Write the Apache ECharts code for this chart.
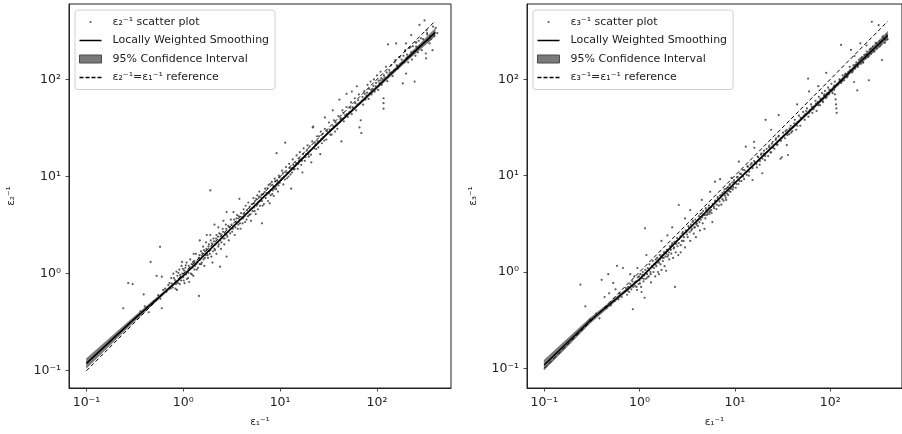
<!DOCTYPE html>
<html><head><meta charset="utf-8">
<script src="https://cdn.jsdelivr.net/npm/echarts@6/dist/echarts.min.js"></script>
<style>html,body{margin:0;padding:0;background:#fff}#c{width:902px;height:434px}</style>
</head><body><div id="c"></div>
<script>
// ---- tick labels ----
const tickValues = [0.1, 1, 10, 100];
const tickLabels = ['10\u207b\u00b9', '10\u2070', '10\u00b9', '10\u00b2'];

// ---- names ----
const xName = '\u03b5\u2081\u207b\u00b9';
const yNameLeft = '\u03b5\u2082\u207b\u00b9';
const yNameRight = '\u03b5\u2083\u207b\u00b9';
const scatterNameLeft = '\u03b5\u2082\u207b\u00b9 scatter plot';
const scatterNameRight = '\u03b5\u2083\u207b\u00b9 scatter plot';
const smoothName = 'Locally Weighted Smoothing';
const bandName = '95% Confidence Interval';
const refNameLeft = '\u03b5\u2082\u207b\u00b9=\u03b5\u2081\u207b\u00b9 reference';
const refNameRight = '\u03b5\u2083\u207b\u00b9=\u03b5\u2081\u207b\u00b9 reference';

// ---- smoothing curves and confidence bands ----
const smoothX = [0.1, 0.3, 1, 3, 10, 30, 100, 200, 400];
const smoothLeft = [0.119, 0.33, 0.95, 2.8, 9, 27, 83, 160, 305];
const lowerLeft = [0.106, 0.31, 0.93, 2.74, 8.8, 26.3, 80, 152, 278];
const upperLeft = [0.134, 0.35, 0.97, 2.86, 9.2, 27.7, 86, 168, 335];
const smoothRight = [0.108, 0.31, 0.84, 2.55, 8.4, 24, 75, 148, 285];
const lowerRight = [0.096, 0.29, 0.82, 2.5, 8.2, 23.4, 72, 140, 258];
const upperRight = [0.122, 0.33, 0.86, 2.6, 8.6, 24.6, 78, 156, 315];

// ---- reference y = x ----
const refX = [0.1, 400];
const refY = [0.1, 400];

// ---- scatter (left: eps2 vs eps1) ----
const scatterLeft = [
[0.24,0.44],[0.27,0.8],[0.30,0.78],[0.33,0.36],[0.36,0.41],[0.39,0.61],[0.40,0.46],[0.42,0.45],[0.44,0.40],[0.46,1.32],[0.48,0.5],[0.5,0.52],[0.53,0.95],[0.55,0.6],[0.575,1.89],[0.58,0.55],[0.6,0.44],[0.6,0.93],[0.62,0.68],[0.65,0.7],[0.67,0.65],[0.7,0.76],
[0.72,0.8],[0.74,0.7],[0.76,0.79],[0.78,0.72],[0.79,1.0],[0.8,0.9],[0.82,0.86],[0.84,0.78],[0.85,1.05],[0.86,0.68],[0.87,0.95],[0.88,0.8],[0.9,0.88],[0.91,1.1],[0.93,0.97],[0.95,0.85],[0.96,1.2],[0.97,1.32],[0.98,1.0],[1.0,0.92],[1.02,1.08],[1.03,0.8],[1.05,1.15],[1.07,0.98],[1.08,1.3],[1.1,1.05],[1.12,0.9],[1.14,1.2],[1.15,0.82],[1.16,1.1],[1.18,1.4],[1.2,1.0],[1.22,1.25],[1.25,1.15],[1.27,0.95],[1.28,1.6],[1.3,1.35],[1.32,1.2],[1.35,1.6],[1.38,1.1],[1.4,1.3],[1.45,0.59],[1.45,1.45],[1.48,1.25],[1.48,2.2],
[1.5,1.4],[1.52,1.7],[1.55,1.3],[1.58,1.5],[1.6,1.9],[1.62,1.4],[1.65,1.2],[1.68,1.7],[1.7,1.55],[1.72,2.1],[1.75,1.6],[1.75,2.5],[1.8,1.45],[1.82,1.9],[1.85,1.7],[1.9,7.2],[1.9,1.75],[1.9,2.5],[1.92,2.2],[1.95,1.5],[2.0,1.9],[2.0,1.3],[2.05,2.3],[2.1,1.8],[2.1,3.2],[2.15,2.0],[2.2,1.6],[2.2,2.5],[2.25,2.1],[2.3,1.9],[2.3,3.0],[2.35,2.6],[2.4,2.2],[2.4,1.18],[2.45,1.8],[2.5,2.4],[2.55,2.9],[2.6,2.3],[2.6,3.5],[2.65,2.0],[2.7,2.6],[2.75,3.2],[2.8,2.5],[2.8,4.3],[2.8,1.5],[2.9,2.7],[2.95,2.2],[3.0,3.0],[3.1,3.6],[3.2,2.7],[3.3,3.1],[3.3,4.3],[3.4,2.5],[3.5,3.4],[3.6,4.0],[3.7,3.2],[3.8,3.6],[3.8,5.9],[3.9,2.9],[4.0,3.8],
[4.1,3.3],[4.2,4.6],[4.3,3.9],[4.4,5.0],[4.5,3.6],[4.6,4.2],[4.7,5.4],[4.8,4.0],[4.9,4.6],[5.0,3.5],[5.1,5.2],[5.2,4.4],[5.3,6.0],[5.4,4.8],[5.5,5.6],[5.6,4.1],[5.7,5.0],[5.8,6.4],[5.9,4.6],[6.0,5.5],[6.1,7.0],[6.2,5.0],[6.3,6.1],[6.5,3.3],[6.5,5.6],[6.7,6.6],[6.8,5.2],[7.0,7.5],[7.1,6.0],[7.3,6.8],[7.5,5.6],[7.6,8.2],[7.8,5.3],[7.8,7.0],[8.0,6.4],[8.2,8.8],[8.4,7.2],[8.6,6.3],[8.8,9.5],[9.0,7.8],[9.2,17.4],[9.3,8.5],[9.5,7.0],[9.7,10.2],[9.9,8.6],
[10.2,9.2],[10.5,11.5],[10.8,8.3],[11.0,10.0],[11.3,22.3],[11.5,12.5],[11.8,9.6],[12,11],[12.4,13.5],[12.8,10.5],[13,7.5],[13.2,12.2],[13.5,15],[13.9,11.8],[14.3,12.9],[14.8,16.5],[15.2,12],[15.6,14.5],[16,17.8],[16.5,13.2],[17,15.5],[17,11],[17.5,19.5],[18,14.5],[18.6,17],[19.2,21],[19.8,16],[20.5,18.5],[21,14],[21.5,23],[21.7,32],[22,32.6],[22.5,19.5],[23.2,21.5],[24,26],[24.8,20],[25.5,23],[26,17],[26.3,29],[27,22],[28,25.5],[29,31],[29,40.6],[30,24],[31,28],[32,36],[33,27],[34.5,31],[35,48],[36,38],[37,29],[38.5,34],[40,42],[41,62],[43,23],
[41,36],[42.5,40],[44,48],[45.5,37],[47,43],[48.5,52],[48.5,71],[50,41],[52,46],[54,58],[55,44],[55,75],[57,50],[59,64],[61,48],[62,85],[63,55],[65,70],[66,32],[68,38],[69,28],[70,60],[72,55],[74,76],[76,62],[78,68],[80,88],[82,63],[84,72],[86,95],[88,70],[90,80],[93,100],[95,75],[97,85],[100,110],[103,78],[106,92],[109,98],[109,120],[112,88],[117,50],[117,57],[117,64],[115,100],[120,105],[124,135],[128,96],[130,230],[132,112],[136,118],[140,140],[145,108],[150,125],
[155,158],[158,235],[160,140],[165,130],[170,170],[175,145],[180,160],[185,91],[188,175],[192,150],[196,200],[200,165],[200,115],[200,235],[205,180],[210,150],[215,210],[220,175],[225,190],[226,286],[230,160],[235,220],[245,95],[245,195],[250,175],[254,218],[255,240],[260,210],[265,190],[270,250],[275,365],[280,220],[290,200],[300,260],[310,405],[320,185],[322,165],[325,320],[330,290],[340,250],[350,235],[360,260],[375,200],[390,280],[405,340],[420,300],
[0.75,0.9],[0.83,0.7],[0.89,1.02],[0.92,0.78],[0.99,1.12],[1.01,0.85],[1.06,1.22],[1.09,0.88],[1.13,1.02],[1.19,1.12],[1.23,0.98],[1.26,1.32],[1.31,1.1],[1.36,1.25],[1.42,1.15],[1.47,1.55],[1.53,1.25],[1.57,1.62],[1.63,1.75],[1.67,1.45],[1.73,1.8],[1.78,1.55],[1.84,2.0],[1.88,1.6],[1.97,2.05],[2.03,1.7],[2.08,2.15],[2.13,1.75],[2.18,2.3],[2.28,2.4],[2.33,2.0],[2.43,2.55],[2.48,2.1],[2.58,2.7],[2.68,2.3],[2.78,2.9],[2.85,2.4],[2.92,3.1],[3.05,2.6],[3.15,3.2],[3.25,2.9],[3.35,3.6],[3.45,3.0],[3.55,3.7],[3.65,2.9],[3.75,3.9],[3.85,3.3],[3.95,4.2],[4.15,3.7],[4.25,4.1],[4.35,3.4],[4.55,4.5],[4.65,3.9],[4.85,4.9],[4.95,4.1],[5.15,4.7],[5.35,5.3],[5.45,4.4],[5.65,5.9],[5.85,5.2],[6.05,6.2],[6.25,5.6],[6.45,6.5],[6.6,5.0],[6.9,6.9],[7.2,6.5],[7.4,7.6],[7.7,6.7],[7.9,8.4],[8.1,7.3],[8.3,6.6],[8.5,8.0],[8.7,7.5],[8.9,8.9],[9.1,7.4],[9.4,9.0],[9.6,8.1],[9.8,9.8],
[10.4,9.6],[10.7,10.8],[11.2,9.3],[11.6,11.0],[12.2,10.0],[12.6,12.2],[13.3,11.0],[13.7,13.2],[14.1,12.0],[14.6,13.8],[15.4,13.5],[15.9,15.2],[16.8,14.5],[17.3,17.0],[18.3,15.8],[18.9,18.5],[19.5,17.0],[20.2,20.5],[20.8,16.8],[22.8,22.5],[23.6,19.2],[24.4,23.0],[25.2,26.0],[26.8,24.5],[27.5,27.5],[28.5,23.5],[30.5,29.5],[32.5,30.5],[34,27],[35.5,33],[37.5,36],[39,31],[42,39],[45,45],[49,44],[53,51],[56,52],[60,57],[64,61],[67,57],[71,66],[75,71],[79,73],[83,80],[87,78],[92,86],[98,92],[104,97],[111,103],[118,110],[126,118],[134,125],[143,118],[152,150],[162,138],[172,170],[183,150],[195,195],[208,170],[222,215],[238,195],[252,240],[268,215],[285,265],[305,240],[330,300],[355,280],[380,350]
];

// ---- scatter (right: eps3 vs eps1) ----
const scatterRight = [
[0.24,0.74],[0.27,0.44],[0.3,0.32],[0.35,0.37],[0.38,0.33],[0.4,0.83],[0.43,0.55],[0.45,0.42],[0.47,0.95],[0.48,0.6],[0.5,0.45],[0.53,0.77],[0.55,0.5],[0.56,0.66],[0.58,1.16],[0.6,0.52],[0.62,0.6],[0.65,0.55],[0.67,1.1],[0.7,0.62],
[0.72,0.68],[0.74,0.58],[0.76,0.7],[0.78,0.62],[0.8,0.75],[0.8,0.95],[0.82,0.66],[0.84,0.8],[0.85,0.41],[0.86,0.7],[0.88,0.9],[0.9,0.72],[0.92,0.8],[0.94,0.65],[0.95,1.1],[0.96,0.88],[0.98,0.75],[1.0,0.82],[1.02,0.95],[1.04,0.7],[1.05,0.62],[1.06,0.86],[1.08,1.0],[1.1,0.8],[1.12,0.92],[1.13,0.54],[1.14,2.84],[1.15,1.05],[1.17,0.85],[1.18,1.5],[1.2,0.95],[1.22,1.1],[1.25,0.9],[1.27,1.2],[1.3,1.0],[1.32,0.78],[1.35,1.15],[1.38,1.3],[1.4,1.0],[1.43,1.2],[1.46,0.9],[1.48,1.35],
[1.5,1.15],[1.53,1.4],[1.56,1.0],[1.6,1.25],[1.6,0.95],[1.63,1.5],[1.66,1.2],[1.7,1.05],[1.7,2.1],[1.73,1.4],[1.76,1.3],[1.8,1.6],[1.83,1.15],[1.87,1.45],[1.9,1.03],[1.93,1.7],[1.96,2.4],[1.96,1.44],[2.0,1.5],[2.05,1.35],[2.1,1.75],[2.15,1.55],[2.2,2.0],[2.2,2.9],[2.25,1.4],[2.3,1.8],[2.35,0.70],[2.4,1.6],[2.45,2.1],[2.5,1.85],[2.55,1.5],[2.58,4.96],[2.6,2.2],[2.7,1.9],[2.7,1.6],[2.8,2.5],[2.9,2.1],[3.0,1.8],[3.0,3.6],[3.1,2.6],[3.2,2.3],[3.3,2.9],[3.4,2.1],[3.4,4.4],[3.5,2.7],[3.6,3.3],[3.7,2.5],[3.8,2.9],[3.9,2.3],[4.0,3.2],
[4.1,3.0],[4.2,3.8],[4.3,2.7],[4.4,3.5],[4.5,4.1],[4.5,5.6],[4.6,3.2],[4.7,3.9],[4.8,2.8],[4.9,3.6],[5.0,4.4],[5.1,3.9],[5.2,4.2],[5.3,4.6],[5.4,4.0],[5.5,4.3],[5.5,6.8],[5.6,4.7],[5.7,4.1],[5.8,3.3],[6.0,4.8],[6.2,8.66],[6.2,5.4],[6.4,4.5],[6.6,5.8],[6.8,4.9],[7.0,6.2],[7.0,9.2],[7.2,5.0],[7.4,6.6],[7.6,5.5],[7.8,7.2],[8.0,5.9],[8.1,5.6],[8.3,7.5],[8.5,6.3],[8.8,8.0],[9.0,6.8],[9.2,9.5],[9.5,7.2],[9.8,8.6],
[10.2,7.5],[10.5,9.6],[10.9,8.2],[11,14],[11.3,10.5],[11.7,8.8],[12.1,11.5],[12.5,9.2],[13,20],[13,10.8],[13.5,12.5],[14,10],[14.5,12],[15,13.5],[15.3,9.0],[15.9,22.5],[16,19.5],[16.3,13.8],[17,12.2],[17.6,15.5],[18.2,13],[18.8,16.5],[19.4,10.6],[20,17],[20.7,14.5],[21,38],[21.5,19],[22.3,16],[23,20.5],[24,17.5],[24,30],[25,22.5],[26,19],[27,24.5],[28,21],[28.8,42.6],[29,26],[30,15],[30.5,23],[31,15.5],[32,28],[33.5,24.5],[35,30],[35,20.8],[36,16.4],[37,27],[38.5,33],[40,29],
[41,32],[42.5,38],[44,30],[45,55],[45.5,36],[47,42],[48.5,33],[50,40],[52,46],[54,38],[55,44],[57,50],[58.6,102],[59,41],[60,75],[61,48],[63,55],[65,45],[67,52],[70,60],[72,47],[74,58],[75,85],[76,66],[78,54],[80,62],[82,72],[84,58],[86,68],[88,76],[90.8,117],[90,64],[93,72],[95,82],[97,70],[100,78],[103,90],[106,72],[109,84],[110,78],[112,70],[112,95],[114,62],[115,55],[116,50],[117,45],[120,88],[125,100],[130,228],[130,92],[135,110],[140,98],[145,115],[150,105],
[155,120],[160,135],[165,203],[170,118],[175,140],[178,94],[180,175],[182,130],[188,150],[192,77],[195,140],[200,160],[207,237],[210,145],[215,170],[220,150],[228,180],[235,165],[240,225],[242,195],[250,170],[254,98],[260,205],[268,185],[273,397],[280,220],[290,195],[300,240],[310,210],[322,366],[330,250],[340,230],[349,159],[360,270],[375,240],[390,290],[400,260],
[0.75,0.64],[0.83,0.72],[0.89,0.78],[0.93,0.7],[0.99,0.9],[1.01,0.76],[1.07,0.93],[1.11,0.85],[1.16,0.97],[1.21,0.88],[1.26,1.05],[1.31,0.95],[1.36,1.12],[1.42,1.1],[1.47,1.2],[1.52,1.25],[1.58,1.3],[1.64,1.35],[1.68,1.45],[1.74,1.5],[1.79,1.4],[1.85,1.6],[1.91,1.55],[1.98,1.7],[2.03,1.6],[2.08,1.85],[2.13,1.7],[2.18,1.9],[2.28,1.75],[2.33,2.05],[2.43,1.95],[2.48,2.25],[2.58,2.0],[2.68,2.35],[2.78,2.1],[2.85,2.6],[2.92,2.3],[3.05,2.7],[3.15,2.45],[3.25,3.0],[3.35,2.6],[3.45,3.1],[3.55,2.8],[3.65,3.4],[3.75,2.9],[3.85,3.5],[3.95,3.1],[4.15,3.5],[4.25,3.3],[4.35,4.0],[4.55,3.7],[4.65,4.3],[4.85,3.9],[4.95,4.6],[5.15,4.0],[5.35,4.9],[5.45,4.2],[5.65,4.4],[5.85,5.1],[6.05,4.6],[6.25,5.5],[6.45,5.0],[6.6,6.0],[6.9,5.4],[7.2,6.3],[7.4,5.7],[7.7,6.8],[7.9,6.2],[8.1,7.3],[8.3,6.5],[8.5,7.6],[8.7,6.9],[8.9,8.2],[9.1,7.3],[9.4,8.5],[9.6,7.6],[9.8,9.0],
[10.4,8.2],[10.7,9.7],[11.2,8.8],[11.6,10.4],[12.2,9.8],[12.6,11.4],[13.3,10.2],[13.7,12.4],[14.1,11.0],[14.6,13.0],[15.4,12.0],[15.9,14.2],[16.8,13.2],[17.3,15.8],[18.3,14.2],[18.9,17.0],[19.5,15.0],[20.2,18.2],[20.8,16.0],[22.8,19.8],[23.6,17.5],[24.4,21.5],[25.2,19.5],[26.8,23.5],[27.5,21.0],[28.5,25.5],[30.5,24.5],[32.5,26.0],[34,29],[35.5,26.5],[37.5,31],[39,28],[42,35],[45,33],[49,40],[53,42],[56,47],[60,45],[64,52],[67,49],[71,56],[75,54],[79,63],[83,60],[87,70],[92,66],[98,78],[104,76],[111,86],[118,88],[126,98],[134,96],[143,112],[152,108],[162,125],[172,122],[183,142],[195,135],[208,165],[222,150],[238,182],[252,175],[268,210],[285,195],[305,235],[330,220],[355,280],[380,260]
];

function pairs(xs, ys) { return xs.map((x, i) => [x, ys[i]]); }
function bandRows(xs, lo, hi) { return xs.map((x, i) => [x, lo[i], hi[i]]); }

const FONT = 'DejaVu Sans';
const INK = '#222';

function fmtTick(v) {
  for (let i = 0; i < tickValues.length; i++) {
    if (Math.abs(v - tickValues[i]) / tickValues[i] < 1e-6) return tickLabels[i];
  }
  return '';
}

function xAxisCfg(gi, max) {
  return {
    type: 'log', logBase: 10, gridIndex: gi, min: 0.066, max: max,
    name: xName, nameLocation: 'middle', nameGap: 29,
    nameTextStyle: { fontFamily: FONT, fontSize: 10.5, color: INK },
    axisLine: { show: true, onZero: false, lineStyle: { color: INK, width: 1 } },
    axisTick: { show: true, length: 3.5, lineStyle: { color: INK, width: 0.8 }, customValues: tickValues },
    axisLabel: { show: true, fontFamily: FONT, fontSize: 12.5, color: INK, margin: 8, customValues: tickValues, formatter: fmtTick },
    splitLine: { show: false }, minorTick: { show: false }
  };
}
function yAxisCfg(gi, min, max, name, gap) {
  return {
    type: 'log', logBase: 10, gridIndex: gi, min: min, max: max,
    name: name, nameLocation: 'middle', nameGap: gap, nameRotate: 90,
    nameTextStyle: { fontFamily: FONT, fontSize: 10.5, color: INK },
    axisLine: { show: true, onZero: false, lineStyle: { color: INK, width: 1 } },
    axisTick: { show: true, length: 3.5, lineStyle: { color: INK, width: 0.8 }, customValues: tickValues },
    axisLabel: { show: true, fontFamily: FONT, fontSize: 12.5, color: INK, margin: 8, customValues: tickValues, formatter: fmtTick },
    splitLine: { show: false }, minorTick: { show: false }
  };
}

function bandSeries(idx, xs, lo, hi) {
  return {
    type: 'custom', name: bandName, xAxisIndex: idx, yAxisIndex: idx, z: 3,
    data: bandRows(xs, lo, hi), encode: { x: 0, y: [1, 2] },
    itemStyle: { color: '#777' },
    renderItem: function (params, api) {
      if (params.dataIndex !== 0) return null;
      const pts = [];
      for (let i = 0; i < xs.length; i++) pts.push(api.coord([xs[i], hi[i]]));
      for (let i = xs.length - 1; i >= 0; i--) pts.push(api.coord([xs[i], lo[i]]));
      return { type: 'polygon', shape: { points: pts },
        style: { fill: 'rgba(60,60,60,0.68)', stroke: 'rgba(40,40,40,0.5)', lineWidth: 0.6 } };
    }
  };
}

const dotIcon = 'path://M0,0M22,10M10.2,4.1h1.8v1.8h-1.8z';
const lineIcon = 'path://M0,0M22,10M0,4.25h22v1.5h-22z';
const rectIcon = 'path://M0,1h22v8h-22z';
const dashIcon = 'path://M0,0M22,10M0,4.3h4v1.4h-4zM6,4.3h4v1.4h-4zM12,4.3h4v1.4h-4zM18,4.3h4v1.4h-4z';

function legendCfg(left, sName, rName) {
  return {
    left: left, top: 10, orient: 'vertical', selectedMode: false,
    itemWidth: 22, itemHeight: 10, itemGap: 6.5,
    padding: [6, 6, 6, 4],
    backgroundColor: 'rgba(255,255,255,0.85)', borderColor: '#cfcfcf', borderWidth: 1, borderRadius: 3,
    textStyle: { fontFamily: FONT, fontSize: 11, color: INK, padding: [0, 0, 0, 6], lineHeight: 12 },
    data: [
      { name: sName, icon: dotIcon, itemStyle: { color: '#333' } },
      { name: smoothName, icon: lineIcon, itemStyle: { color: '#000' } },
      { name: bandName, icon: rectIcon, itemStyle: { color: '#7a7a7a', borderColor: '#4a4a4a', borderWidth: 1 } },
      { name: rName, icon: dashIcon, itemStyle: { color: '#000' } }
    ]
  };
}

const chart = echarts.init(document.getElementById('c'), null, { renderer: 'canvas' });
chart.setOption({
  animation: false,
  backgroundColor: '#fff',
  textStyle: { fontFamily: FONT },
  grid: [
    { left: 69, top: 4, width: 382, height: 384, show: true, borderColor: INK, borderWidth: 1, backgroundColor: 'transparent' },
    { left: 527, top: 4, width: 382, height: 384, show: true, borderColor: INK, borderWidth: 1, backgroundColor: 'transparent' }
  ],
  xAxis: [xAxisCfg(0, 582), xAxisCfg(1, 566)],
  yAxis: [yAxisCfg(0, 0.0664, 598, yNameLeft, 52), yAxisCfg(1, 0.0624, 607, yNameRight, 48)],
  legend: [legendCfg(75, scatterNameLeft, refNameLeft), legendCfg(533, scatterNameRight, refNameRight)],
  series: [
    { type: 'scatter', name: scatterNameLeft, xAxisIndex: 0, yAxisIndex: 0, data: scatterLeft,
      symbol: 'circle', symbolSize: 2.2, itemStyle: { color: '#333' }, z: 2 },
    bandSeries(0, smoothX, lowerLeft, upperLeft),
    { type: 'line', name: smoothName, xAxisIndex: 0, yAxisIndex: 0, data: pairs(smoothX, smoothLeft),
      showSymbol: false, symbol: 'none', lineStyle: { color: '#000', width: 1.5 }, itemStyle: { color: '#000' }, z: 4 },
    { type: 'line', name: refNameLeft, xAxisIndex: 0, yAxisIndex: 0, data: pairs(refX, refY),
      showSymbol: false, symbol: 'none', lineStyle: { color: '#000', width: 1, type: [4, 2.5] }, itemStyle: { color: '#000' }, z: 5 },

    { type: 'scatter', name: scatterNameRight, xAxisIndex: 1, yAxisIndex: 1, data: scatterRight,
      symbol: 'circle', symbolSize: 2.2, itemStyle: { color: '#333' }, z: 2 },
    bandSeries(1, smoothX, lowerRight, upperRight),
    { type: 'line', name: smoothName, xAxisIndex: 1, yAxisIndex: 1, data: pairs(smoothX, smoothRight),
      showSymbol: false, symbol: 'none', lineStyle: { color: '#000', width: 1.5 }, itemStyle: { color: '#000' }, z: 4 },
    { type: 'line', name: refNameRight, xAxisIndex: 1, yAxisIndex: 1, data: pairs(refX, refY),
      showSymbol: false, symbol: 'none', lineStyle: { color: '#000', width: 1, type: [4, 2.5] }, itemStyle: { color: '#000' }, z: 5 }
  ]
});
</script></body></html>
